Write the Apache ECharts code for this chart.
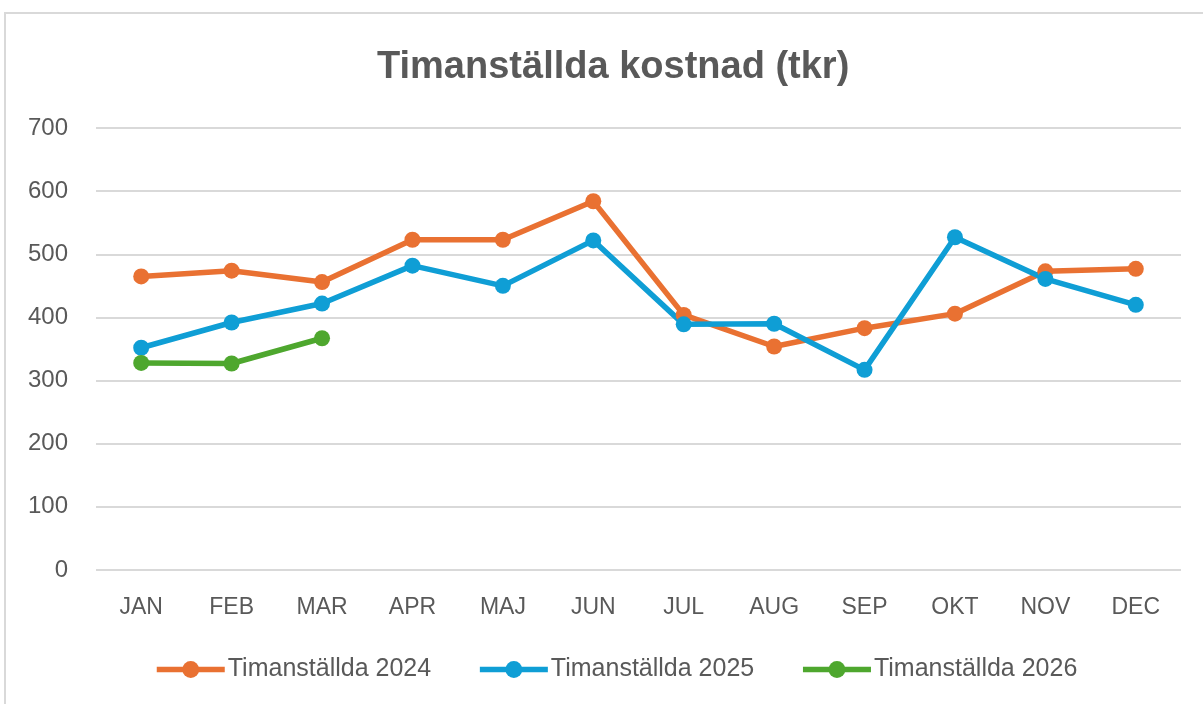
<!DOCTYPE html>
<html>
<head>
<meta charset="utf-8">
<script src="https://cdn.jsdelivr.net/npm/echarts@6/dist/echarts.min.js"></script>
<style>
  html, body { margin: 0; padding: 0; background: #fff; }
  #chart { width: 1203px; height: 704px; }
</style>
</head>
<body>
<div id="chart"></div>
<script>
var months = ['JAN','FEB','MAR','APR','MAJ','JUN','JUL','AUG','SEP','OKT','NOV','DEC'];
var names = ['Timanställda 2024','Timanställda 2025','Timanställda 2026'];
var data2024 = [465, 474, 456, 523, 523, 584, 404, 354, 383, 406, 473, 477];
var data2025 = [352, 392, 422, 482, 450, 522, 389, 390, 317, 527, 461, 420];
var data2026 = [328, 327, 367];

init();

function init() {
    var myChart = echarts.init(document.getElementById('chart'));
    var font = '"Liberation Sans", Arial, sans-serif';
    var lineSeries = function (name, data, color) {
        return {
            name: name,
            type: 'line',
            data: data,
            symbol: 'circle',
            symbolSize: 16,
            itemStyle: { color: color },
            lineStyle: { color: color, width: 5.5 },
            animation: false
        };
    };
    var option = {
        backgroundColor: '#fff',
        graphic: [{
            type: 'rect',
            shape: { x: 5, y: 13, width: 1300, height: 800 },
            style: { fill: 'none', stroke: '#d9d9d9', lineWidth: 2 }
        }],
        title: {
            text: 'Timanställda kostnad (tkr)',
            left: 372,
            top: 44,
            textStyle: {
                color: '#595959',
                fontSize: 38,
                fontWeight: 'bold',
                fontFamily: font
            }
        },
        legend: {
            data: names,
            top: 652,
            left: 149,
            itemWidth: 68,
            itemHeight: 21,
            itemGap: 46,
            lineStyle: { width: 5.5 },
            textStyle: {
                color: '#595959',
                fontSize: 25,
                fontFamily: font,
                padding: [0, 0, 0, -2]
            }
        },
        grid: {
            top: 128,
            left: 96,
            right: 22,
            bottom: 134
        },
        xAxis: {
            type: 'category',
            data: months,
            axisLine: { show: false },
            axisTick: { show: false },
            axisLabel: {
                color: '#595959',
                fontSize: 23,
                fontFamily: font,
                margin: 26
            }
        },
        yAxis: {
            type: 'value',
            min: 0,
            max: 700,
            interval: 100,
            axisLine: { show: false },
            axisTick: { show: false },
            splitLine: { lineStyle: { color: '#d9d9d9', width: 2 } },
            axisLabel: {
                color: '#595959',
                fontSize: 24,
                fontFamily: font,
                margin: 28
            }
        },
        series: [
            lineSeries(names[0], data2024, '#E97132'),
            lineSeries(names[1], data2025, '#0F9ED5'),
            lineSeries(names[2], data2026, '#4EA72E')
        ]
    };
    myChart.setOption(option);
}
</script>
</body>
</html>
